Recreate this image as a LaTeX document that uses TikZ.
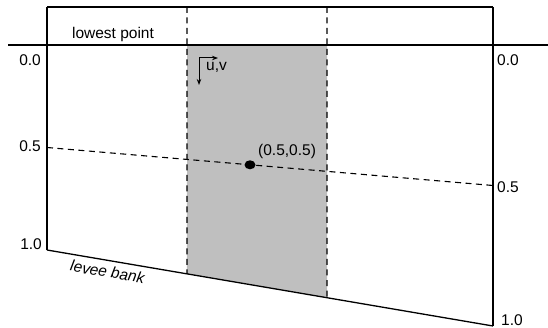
\documentclass[tikz,border=0pt]{standalone}
\usepackage{fontspec}
\setmainfont{Liberation Sans}
\usetikzlibrary{calc,arrows.meta,shapes.geometric}
\begin{document}
\begin{tikzpicture}[
      x=1pt, y=-1pt,
      wall/.style={line width=2.4pt, draw=black},
      edge/.style={line width=1.3pt, draw=black},
      cut/.style={line width=1.1pt, draw=black, dash pattern=on 6pt off 4.5pt},
      lab/.style={font=\fontsize{15.5}{18}\selectfont, inner sep=0pt},
    ]
    \useasboundingbox (0,0) rectangle (548,328);

    % -------------------------------------------------------
    %  corners of the section
    % -------------------------------------------------------
    \coordinate (tl) at (47,7);
    \coordinate (tr) at (493,7);
    \coordinate (bl) at (47,250);
    \coordinate (br) at (493,326);
    \coordinate (wl) at (8,45);
    \coordinate (wr) at (548,45);
    \coordinate (sl) at (187,7);
    \coordinate (sr) at (327,7);
    \coordinate (bsl) at ($(bl)!{140/446}!(br)$);
    \coordinate (bsr) at ($(bl)!{280/446}!(br)$);

    % shaded strip
    \fill[gray!50] (187,45) -- (327,45) -- (bsr) -- (bsl) -- cycle;

    % frame
    \draw[edge] (tl) -- (tr);
    \draw[edge] (bl) -- (br)
      node[lab, pos=0.14, below=5pt, sloped, font=\fontsize{15.5}{18}\selectfont\itshape] (levee) {levee bank};
    \draw[wall] (tl) -- (bl);
    \draw[wall] (tr) -- (br);
    \draw[wall] (wl) -- (wr);

    % strip borders and mid line
    \draw[cut] (sl) -- (bsl);
    \draw[cut] (sr) -- (bsr);
    \coordinate (ml) at ($(wl-|bl)!0.5!(bl)$);
    \coordinate (mr) at ($(wl-|br)!0.5!(br)$);
    \draw[cut] (ml) -- (mr);

    % centre point
    \node[fill=black, ellipse, minimum width=11pt, minimum height=9pt, inner sep=0pt]
      (pt) at ($(ml)!{203/446}!(mr)$) {};
    \node[lab, anchor=south west] (ptlab) at (258,159) {(0.5,0.5)};

    % velocity axes
    \coordinate (uv) at (199,58);
    \draw[line width=1pt, -{Stealth[length=6pt,width=4.5pt]}] (uv) -- ++(19,0);
    \draw[line width=1pt, -{Stealth[length=6pt,width=4.5pt]}] (uv) -- ++(0,27);
    \node[lab, anchor=north west] (uvlab) at (206,62) {u,v};

    % labels
    \node[lab] (low) at (113,34) {lowest point};
    \node[lab, anchor=east] (l0) at (41,60) {0.0};
    \node[lab, anchor=east] (l5) at (41,146) {0.5};
    \node[lab, anchor=east] (l1) at (42,244) {1.0};
    \node[lab, anchor=west] (r0) at (497,60) {0.0};
    \node[lab, anchor=west] (r5) at (497,187) {0.5};
    \node[lab, anchor=west] (r1) at (501,320) {1.0};
  \end{tikzpicture}
\end{document}
